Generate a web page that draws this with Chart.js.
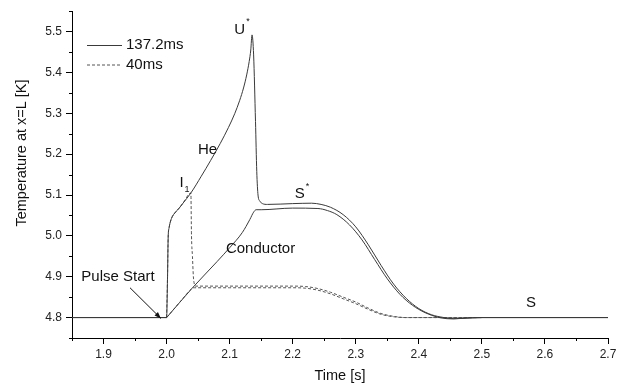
<!DOCTYPE html>
<html>
<head>
<meta charset="utf-8">
<script src="https://cdn.jsdelivr.net/npm/chart.js@4.4.1/dist/chart.umd.min.js"></script>
<style>
  html, body { margin: 0; padding: 0; background: #fff; }
  #wrap { width: 624px; height: 387px; position: relative; }
</style>
</head>
<body>
<div id="wrap"><canvas id="chart"></canvas></div>
<script>
// ─── Data ─────────────────────────────────────────────────────────
// 137.2 ms pulse, helium temperature
const heTime = [1.85, 2.0, 2.0015, 2.0025, 2.004, 2.0063, 2.009, 2.013, 2.02, 2.026, 2.0385, 2.055, 2.07, 2.085, 2.098, 2.108, 2.116, 2.122, 2.127, 2.131, 2.1335, 2.1355,
  2.138, 2.141, 2.143, 2.145, 2.148, 2.152, 2.16, 2.2, 2.23, 2.245, 2.26, 2.28, 2.3, 2.32, 2.34, 2.36, 2.38, 2.4, 2.42, 2.44, 2.455, 2.475, 2.5, 2.7];
const heTemp = [4.8, 4.8, 4.9, 4.995, 5.02, 5.036, 5.047, 5.056, 5.068, 5.08, 5.105, 5.146, 5.185, 5.226, 5.265, 5.299, 5.332, 5.362, 5.394, 5.427, 5.455, 5.492,
  5.443, 5.28, 5.158, 5.1, 5.085, 5.079, 5.077, 5.079, 5.08, 5.077, 5.07, 5.052, 5.022, 4.978, 4.928, 4.882, 4.847, 4.822, 4.807, 4.8, 4.797, 4.799, 4.8, 4.8];

// 137.2 ms pulse, conductor temperature
const condTime = [1.85, 2.0, 2.002, 2.04, 2.08, 2.1, 2.12, 2.132, 2.138, 2.142, 2.15, 2.2, 2.24, 2.255, 2.27, 2.29, 2.31, 2.33, 2.35, 2.37, 2.39, 2.41, 2.43, 2.45, 2.47, 2.5, 2.7];
const condTemp = [4.8, 4.8, 4.8035, 4.871, 4.937, 4.971, 5.008, 5.04, 5.058, 5.064, 5.064, 5.068, 5.067, 5.062, 5.052, 5.027, 4.99, 4.942, 4.895, 4.857, 4.83, 4.812, 4.801, 4.797, 4.798, 4.8, 4.8];

// 40 ms pulse, helium temperature
const he40Time = [2.0, 2.0015, 2.0025, 2.004, 2.0063, 2.009, 2.013, 2.02, 2.026, 2.0385, 2.0395, 2.041, 2.0425, 2.044, 2.046, 2.1, 2.2, 2.22, 2.24, 2.26, 2.28, 2.3, 2.32, 2.34, 2.36, 2.38, 2.5];
const he40Temp = [4.8, 4.9, 4.995, 5.02, 5.036, 5.047, 5.056, 5.068, 5.08, 5.105, 5.0, 4.95, 4.9, 4.882, 4.877, 4.877, 4.877, 4.876, 4.871, 4.862, 4.85, 4.838, 4.823, 4.81, 4.803, 4.8, 4.8];

// 40 ms pulse, conductor temperature
const cond40Time = [2.0, 2.002, 2.02, 2.04, 2.042, 2.044, 2.1, 2.2, 2.22, 2.24, 2.26, 2.28, 2.3, 2.32, 2.34, 2.36, 2.38, 2.5];
const cond40Temp = [4.8, 4.8035, 4.836, 4.871, 4.873, 4.873, 4.873, 4.873, 4.872, 4.867, 4.858, 4.846, 4.834, 4.82, 4.808, 4.802, 4.8, 4.8];

const legendNames = ['137.2ms', '40ms'];

// text labels placed in data coordinates [time, temperature]
const notes = [
  { text: 'U', sup: '*', at: [2.116, 5.504] },
  { text: 'He', at: [2.065, 5.211] },
  { text: 'I', sub: '1', at: [2.0237, 5.129] },
  { text: 'S', sup: '*', at: [2.211, 5.102] },
  { text: 'Conductor', at: [2.149, 4.968] },
  { text: 'Pulse Start', at: [1.923, 4.899] },
  { text: 'S', at: [2.578, 4.836] }
];
const arrowFrom = [1.942, 4.873];
const arrowTo = [1.991, 4.798];

// ─── Helpers ──────────────────────────────────────────────────────
const FONT = "Arial, 'Liberation Sans', sans-serif";
const pts = (xs, ys) => xs.map((x, i) => ({ x, y: ys[i] }));
const isMajor = v => Math.abs(v * 10 - Math.round(v * 10)) < 1e-6;

const extras = {
  id: 'extras',
  afterDraw(chart) {
    const { ctx, chartArea: a, scales: { x, y } } = chart;
    ctx.save();

    // minor ticks
    ctx.strokeStyle = '#000';
    ctx.lineWidth = 1;
    ctx.beginPath();
    x.ticks.forEach(t => {
      if (isMajor(t.value)) return;
      const px = Math.round(x.getPixelForValue(t.value)) + 0.5;
      ctx.moveTo(px, a.bottom); ctx.lineTo(px, a.bottom + 3);
    });
    y.ticks.forEach(t => {
      if (isMajor(t.value)) return;
      const py = Math.round(y.getPixelForValue(t.value)) + 0.5;
      ctx.moveTo(a.left, py); ctx.lineTo(a.left - 3, py);
    });
    ctx.stroke();

    // axis titles
    ctx.fillStyle = '#111';
    ctx.font = `14.5px ${FONT}`;
    ctx.textAlign = 'center';
    ctx.textBaseline = 'middle';
    ctx.fillText('Time [s]', (a.left + a.right) / 2, 376);
    ctx.save();
    ctx.translate(22, 153);
    ctx.rotate(-Math.PI / 2);
    ctx.fillText('Temperature at x=L [K]', 0, 0);
    ctx.restore();

    // legend
    ctx.font = `15px ${FONT}`;
    [0, 2].forEach((di, i) => {
      const ds = chart.data.datasets[di];
      const ly = 45 + i * 19.5;
      ctx.strokeStyle = ds.borderColor;
      ctx.setLineDash(ds.borderDash || []);
      ctx.beginPath();
      ctx.moveTo(87, ly + 0.5); ctx.lineTo(122, ly + 0.5);
      ctx.stroke();
      ctx.setLineDash([]);
      ctx.textAlign = 'left';
      ctx.fillText(legendNames[i], 126, ly);
    });

    // annotations
    notes.forEach(n => {
      const px = x.getPixelForValue(n.at[0]);
      const py = y.getPixelForValue(n.at[1]);
      ctx.font = `15px ${FONT}`;
      ctx.textAlign = 'center';
      ctx.textBaseline = 'middle';
      ctx.fillText(n.text, px, py);
      const w = ctx.measureText(n.text).width;
      ctx.font = `9px ${FONT}`;
      ctx.textAlign = 'left';
      if (n.sup) ctx.fillText(n.sup, px + w / 2 + 1, py - 8);
      if (n.sub) ctx.fillText(n.sub, px + w / 2 + 1, py + 6);
    });

    // arrow to pulse start
    const x1 = x.getPixelForValue(arrowFrom[0]), y1 = y.getPixelForValue(arrowFrom[1]);
    const x2 = x.getPixelForValue(arrowTo[0]), y2 = y.getPixelForValue(arrowTo[1]);
    const ang = Math.atan2(y2 - y1, x2 - x1);
    ctx.strokeStyle = '#111';
    ctx.beginPath();
    ctx.moveTo(x1, y1); ctx.lineTo(x2, y2);
    ctx.stroke();
    ctx.beginPath();
    ctx.moveTo(x2, y2);
    ctx.lineTo(x2 - 7 * Math.cos(ang - 0.35), y2 - 7 * Math.sin(ang - 0.35));
    ctx.lineTo(x2 - 7 * Math.cos(ang + 0.35), y2 - 7 * Math.sin(ang + 0.35));
    ctx.closePath();
    ctx.fill();

    ctx.restore();
  }
};

const line = (label, data, color, dash) => ({
  label, data, borderColor: color, borderWidth: 1, borderDash: dash,
  pointRadius: 0, fill: false, cubicInterpolationMode: 'monotone'
});

// ─── Chart ────────────────────────────────────────────────────────
new Chart(document.getElementById('chart'), {
  type: 'line',
  data: {
    datasets: [
      line('137.2ms He', pts(heTime, heTemp), '#3a3a3a', []),
      line('137.2ms Conductor', pts(condTime, condTemp), '#3a3a3a', []),
      line('40ms He', pts(he40Time, he40Temp), '#555555', [3, 2]),
      line('40ms Conductor', pts(cond40Time, cond40Temp), '#555555', [3, 2])
    ]
  },
  options: {
    responsive: true,
    maintainAspectRatio: false,
    animation: false,
    layout: { padding: { top: 9, right: 16, left: 0, bottom: 0 } },
    plugins: { legend: { display: false }, tooltip: { enabled: false } },
    scales: {
      x: {
        type: 'linear', min: 1.85, max: 2.7,
        afterFit: s => { s.height = 49; },
        ticks: {
          stepSize: 0.05, autoSkip: false, maxRotation: 0, padding: 3, color: '#222',
          font: { size: 12, family: FONT },
          callback: v => isMajor(v) ? v.toFixed(1) : ''
        },
        grid: { drawOnChartArea: false, tickLength: 6, tickColor: c => isMajor(c.tick.value) ? '#000' : 'rgba(0,0,0,0)' },
        border: { color: '#000', width: 1 }
      },
      y: {
        type: 'linear', min: 4.75, max: 5.55,
        afterFit: s => { s.width = 72; },
        ticks: {
          stepSize: 0.05, autoSkip: false, padding: 4, color: '#222',
          font: { size: 12, family: FONT },
          callback: v => isMajor(v) ? v.toFixed(1) : ''
        },
        grid: { drawOnChartArea: false, tickLength: 6, tickColor: c => isMajor(c.tick.value) ? '#000' : 'rgba(0,0,0,0)' },
        border: { color: '#000', width: 1 }
      }
    }
  },
  plugins: [extras]
});
</script>
</body>
</html>
